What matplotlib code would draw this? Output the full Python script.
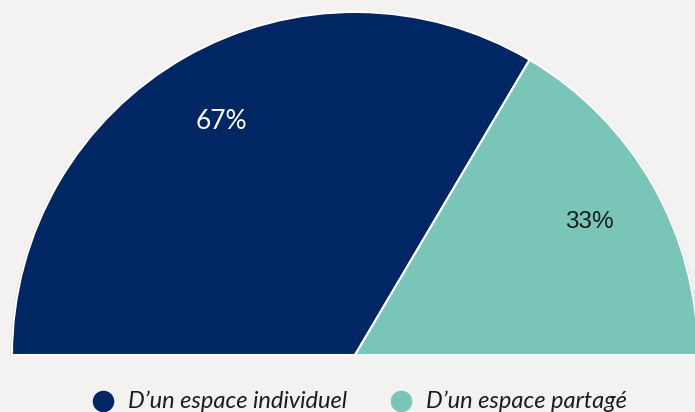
import matplotlib
matplotlib.use("Agg")
import matplotlib.pyplot as plt
from matplotlib.patches import Wedge
import numpy as np

categories = ["D’un espace individuel", "D’un espace partagé"]
values = [67, 33]
labels = ["67%", "33%"]
colors = ["#002663", "#79c5b8"]
label_colors = ["white", "#1c1c1c"]
bg = "#f3f2f0"

W, H = 695, 412
fig = plt.figure(figsize=(W / 100, H / 100), dpi=100, facecolor=bg)
ax = fig.add_axes([0, 0, 1, 1])
ax.set_facecolor(bg)

cx, cy, r = 355, H - 355, 343
# subtle shadow outline
ax.add_patch(Wedge((cx, cy - 1), r + 1.5, 0, 180, facecolor="#c9c9c9", edgecolor="none", zorder=0))

total = sum(values)
wedges, _ = ax.pie(values + [total], colors=colors + ["none"], startangle=180, counterclock=False,
                   center=(cx, cy), radius=r,
                   wedgeprops=dict(edgecolor="white", linewidth=1.5), frame=True)
wedges[-1].set_edgecolor("none")
wedges[-1].set_facecolor("none")

ang = 180.0
fams = ["Lato", "Liberation Sans"]
sizes = [19, 17.5]
for v, lab, lc, fam, fs in zip(values, labels, label_colors, fams, sizes):
    span = v / total * 180
    mid = np.deg2rad(ang - span / 2)
    ang -= span
    ax.text(cx + 0.785 * r * np.cos(mid), cy + 0.785 * r * np.sin(mid), lab, color=lc,
            fontsize=fs, family=fam, ha="center", va="center")

# legend (drawn manually)
leg_x = [102.5, 401]
txt_x = [128, 426]
for c, name, hx, tx in zip(colors, categories, leg_x, txt_x):
    ax.plot([hx], [H - 401], marker="o", markersize=15.5, markerfacecolor=c,
            markeredgecolor="none", linestyle="none", clip_on=False)
    ax.text(tx, H - 408, name, family="Lato", style="italic", fontsize=17,
            color="#1c1c1c", ha="left", va="baseline")

ax.set_xlim(0, W)
ax.set_ylim(0, H)
ax.set_aspect("auto")
ax.axis("off")

fig.savefig("out.png", dpi=100, facecolor=bg)
